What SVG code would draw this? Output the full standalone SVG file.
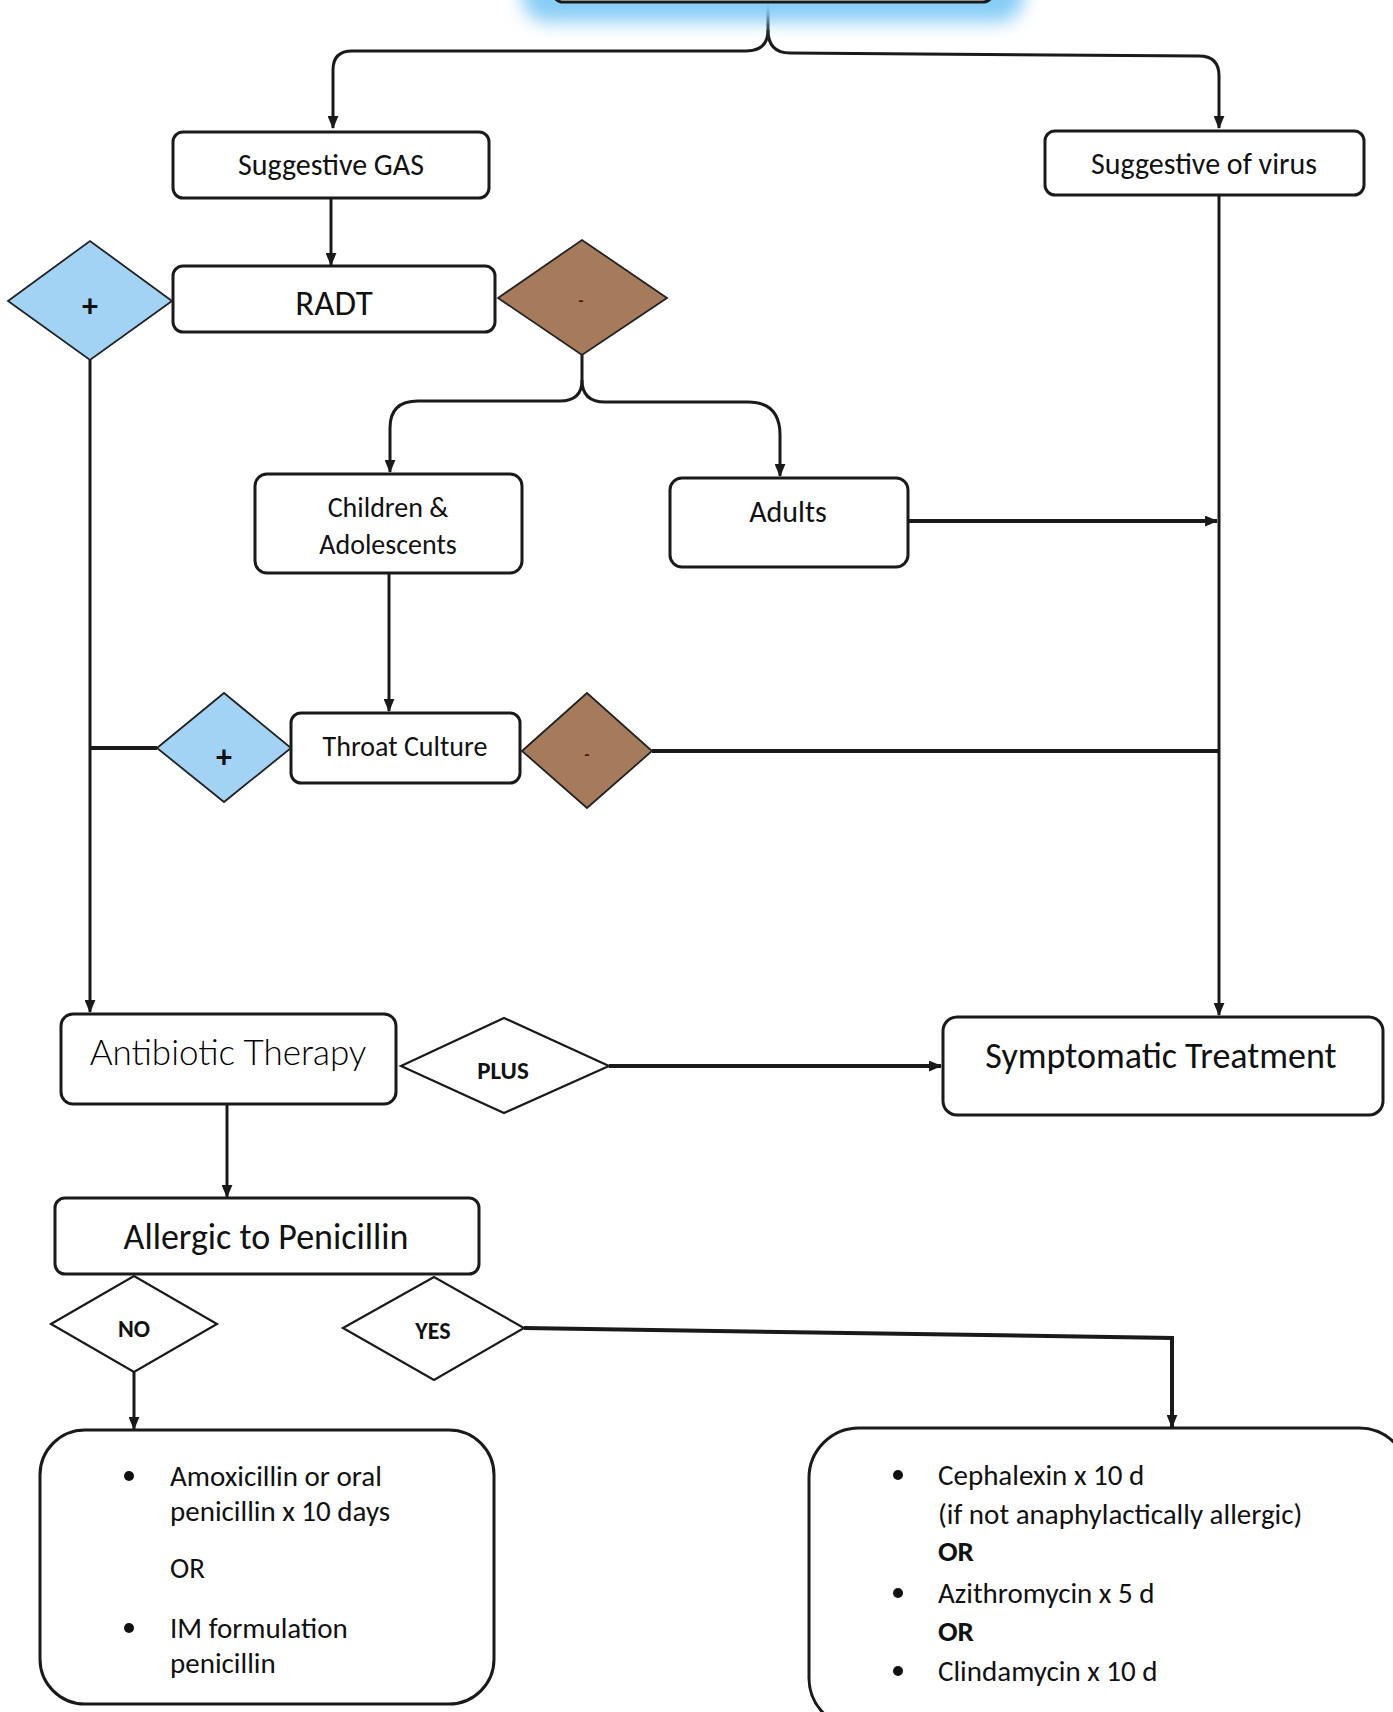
<svg xmlns="http://www.w3.org/2000/svg" width="1393" height="1712" viewBox="0 0 1393 1712">
<defs>
<style>
.box{fill:#fff;stroke:#1a1a1a;stroke-width:3}
.dia{stroke:#222;stroke-width:1.8}
.blue{fill:#a2d2f4}
.brown{fill:#a57b5b}
.wd{fill:#fff;stroke:#1a1a1a;stroke-width:2.2}
.ln{fill:none;stroke:#1a1a1a;stroke-width:3}
.lnb{fill:none;stroke:#1a1a1a;stroke-width:4}
.t{font-family:Carlito,Lato,'Liberation Sans',sans-serif;fill:#111}
.c{text-anchor:middle}
.s30{font-size:30px}
.s28{font-size:28px}
.s29{font-size:29px}
.s35{font-size:35px}
.s36{font-size:36px}
.light{font-family:'Lato Light',Lato,'Liberation Sans',sans-serif;font-weight:300;fill:#000}
.b{font-weight:bold}
.sign{font-weight:900;font-size:32px}
</style>
<marker id="arr" viewBox="0 0 12 10" refX="11" refY="5" markerWidth="13" markerHeight="11" markerUnits="userSpaceOnUse" orient="auto">
<path d="M0,0 L12,5 L0,10 Z" fill="#1a1a1a"/>
</marker>
<filter id="glow" x="-20%" y="-100%" width="140%" height="300%">
<feGaussianBlur stdDeviation="9"/>
</filter>
</defs>

<g id="connectors">
<path class="ln" d="M768,2 V30 Q768,51 746,51 H352 Q333,51 333,70 V128" marker-end="url(#arr)"/>
<path class="ln" d="M768,30 Q768,53 790,53 L1199,56 Q1219,56 1219,76 V128" marker-end="url(#arr)"/>
<path class="ln" d="M331,198 V265" marker-end="url(#arr)"/>
<path class="ln" d="M90,360 V1012" marker-end="url(#arr)"/>
<path class="ln" d="M582,355 V380 Q582,401 560,401 H418 Q390,401 390,428 V472" marker-end="url(#arr)"/>
<path class="ln" d="M582,380 Q582,402 605,402 H748 Q780,402 780,435 V476" marker-end="url(#arr)"/>
<path class="ln" d="M1219,195 V1015" marker-end="url(#arr)"/>
<path class="lnb" d="M908,521 H1217" marker-end="url(#arr)"/>
<path class="ln" d="M389,573 V711" marker-end="url(#arr)"/>
<path class="lnb" d="M90,748 H157"/>
<path class="lnb" d="M652,751 H1219"/>
<path class="lnb" d="M609,1066 H941" marker-end="url(#arr)"/>
<path class="ln" d="M227,1104 V1197" marker-end="url(#arr)"/>
<path class="ln" d="M134,1372 V1429" marker-end="url(#arr)"/>
<path class="lnb" d="M524,1328 L1172,1338 V1427" marker-end="url(#arr)"/>
</g>

<g id="node-top">
<rect x="522" y="-60" width="502" height="82" rx="26" fill="#86cdf6" filter="url(#glow)"/>
<rect class="box" x="553" y="-60" width="440" height="62" rx="10"/>
</g>

<g id="node-suggestive-gas">
<rect class="box" x="173" y="132" width="316" height="66" rx="10"/>
<text class="t c s30" x="331" y="175">Suggestive GAS</text>
</g>

<g id="node-suggestive-virus">
<rect class="box" x="1045" y="131" width="319" height="64" rx="10"/>
<text class="t c s30" x="1204" y="174">Suggestive of virus</text>
</g>

<g id="node-radt">
<rect class="box" x="173" y="266" width="322" height="66" rx="10"/>
<text class="t c s35" x="334" y="315">RADT</text>
</g>

<g id="node-radt-pos">
<polygon class="dia blue" points="8,301 90,241 172,301 90,360"/>
<text class="t c sign" x="90" y="317">+</text>
</g>

<g id="node-radt-neg">
<polygon class="dia brown" points="498,298 582,240 667,298 582,355"/>
<text class="t c b" x="581" y="306" font-size="16" style="fill:#4a1208">-</text>
</g>

<g id="node-children">
<rect class="box" x="255" y="474" width="267" height="99" rx="12"/>
<text class="t c s28" x="388" y="517">Children &amp;</text>
<text class="t c s28" x="388" y="554">Adolescents</text>
</g>

<g id="node-adults">
<rect class="box" x="670" y="478" width="238" height="89" rx="12"/>
<text class="t c s30" x="788" y="522">Adults</text>
</g>

<g id="node-throat">
<rect class="box" x="291" y="713" width="229" height="70" rx="10"/>
<text class="t c s28" x="405" y="756">Throat Culture</text>
</g>

<g id="node-tc-pos">
<polygon class="dia blue" points="157,748 224,693 291,748 224,802"/>
<text class="t c sign" x="224" y="768">+</text>
</g>

<g id="node-tc-neg">
<polygon class="dia brown" points="522,751 587,693 652,751 587,808"/>
<text class="t c b" x="587" y="760" font-size="16" style="fill:#4a1208">-</text>
</g>

<g id="node-antibiotic">
<rect class="box" x="61" y="1014" width="335" height="90" rx="12"/>
<text class="t c s35 light" x="228" y="1065">Antibiotic Therapy</text>
</g>

<g id="node-plus">
<polygon class="wd" points="401,1066 504,1018 609,1066 504,1113"/>
<text class="t c b" x="503" y="1079" font-size="25">PLUS</text>
</g>

<g id="node-symptomatic">
<rect class="box" x="943" y="1017" width="440" height="98" rx="14"/>
<text class="t c s36" x="1161" y="1068">Symptomatic Treatment</text>
</g>

<g id="node-allergic">
<rect class="box" x="55" y="1198" width="424" height="76" rx="10"/>
<text class="t c s36" x="266" y="1249">Allergic to Penicillin</text>
</g>

<g id="node-no">
<polygon class="wd" points="51,1324 134,1276 217,1324 134,1372"/>
<text class="t c b" x="134" y="1337" font-size="24">NO</text>
</g>

<g id="node-yes">
<polygon class="wd" points="343,1328 434,1277 524,1328 434,1380"/>
<text class="t c b" x="433" y="1339" font-size="24">YES</text>
</g>

<g id="node-no-treatment">
<rect class="box" x="40" y="1430" width="454" height="274" rx="45"/>
<circle cx="129" cy="1476" r="5" fill="#111"/>
<text class="t s29" x="170" y="1486">Amoxicillin or oral</text>
<text class="t s29" x="170" y="1521">penicillin x 10 days</text>
<text class="t s29" x="170" y="1578">OR</text>
<circle cx="129" cy="1628" r="5" fill="#111"/>
<text class="t s29" x="170" y="1638">IM formulation</text>
<text class="t s29" x="170" y="1673">penicillin</text>
</g>

<g id="node-yes-treatment">
<rect class="box" x="809" y="1428" width="600" height="300" rx="50"/>
<circle cx="898" cy="1475" r="5" fill="#111"/>
<text class="t s29" x="938" y="1485">Cephalexin x 10 d</text>
<text class="t s29" x="938" y="1524">(if not anaphylactically allergic)</text>
<text class="t s29 b" x="938" y="1561">OR</text>
<circle cx="898" cy="1593" r="5" fill="#111"/>
<text class="t s29" x="938" y="1603">Azithromycin x 5 d</text>
<text class="t s29 b" x="938" y="1641">OR</text>
<circle cx="898" cy="1671" r="5" fill="#111"/>
<text class="t s29" x="938" y="1681">Clindamycin x 10 d</text>
</g>
</svg>
